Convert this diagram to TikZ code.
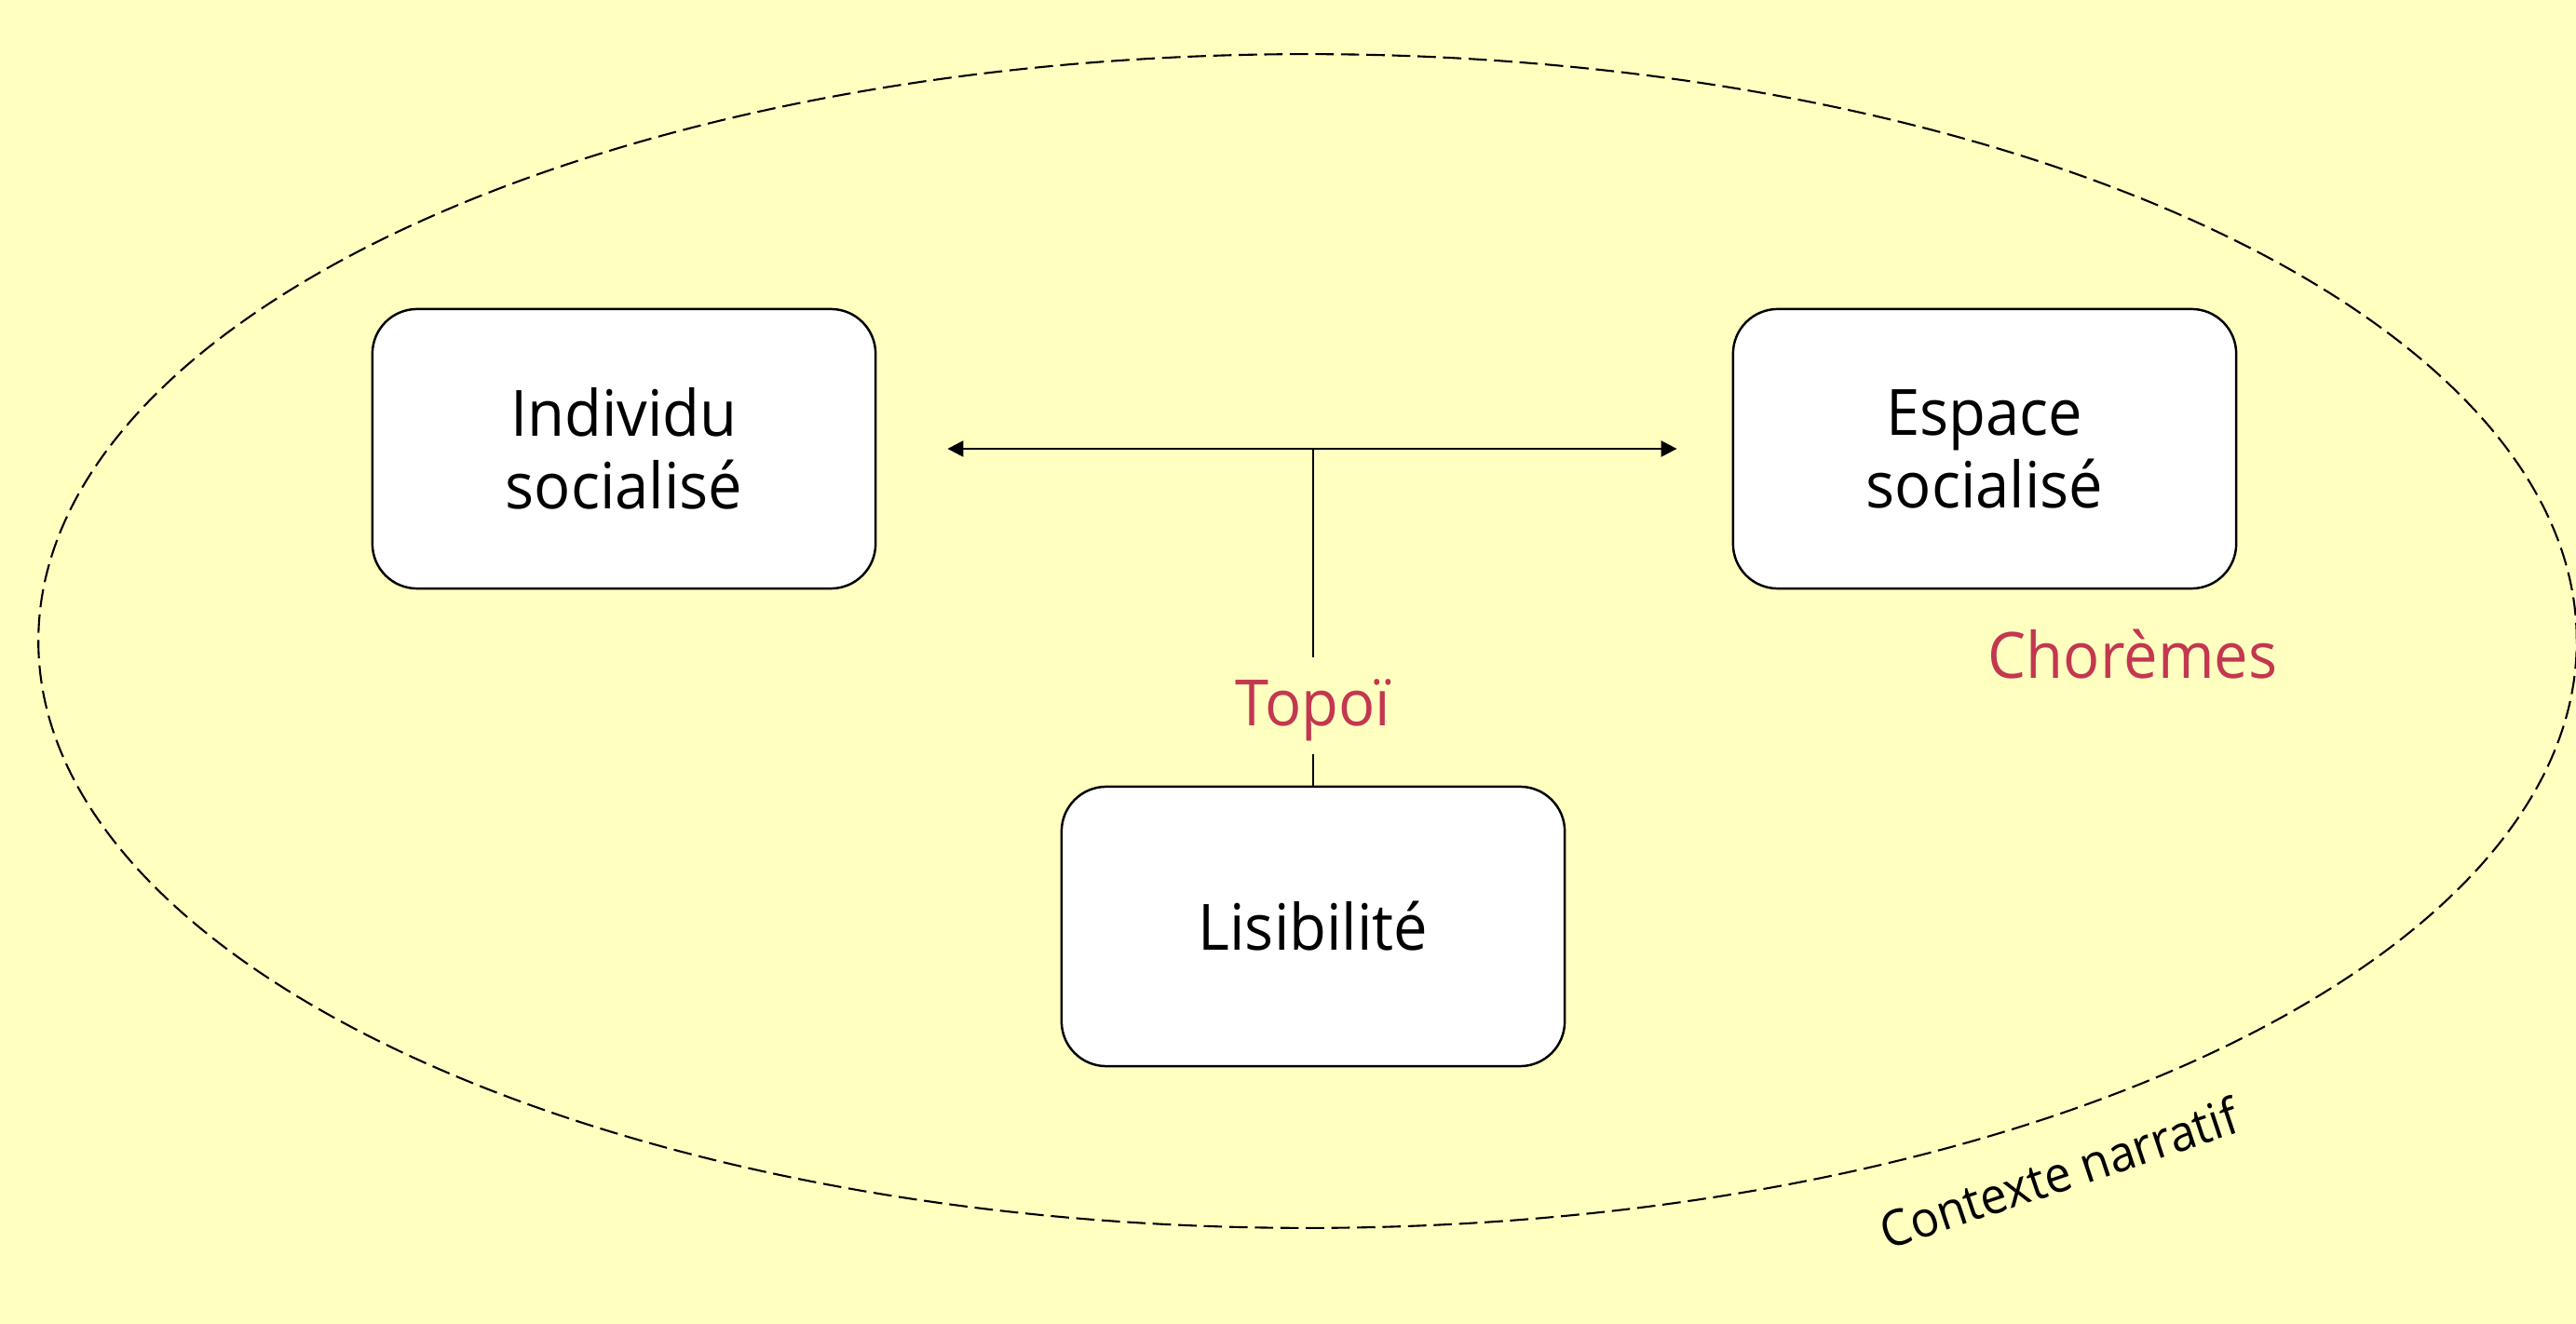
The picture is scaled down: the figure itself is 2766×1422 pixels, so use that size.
\documentclass[tikz,border=0pt]{standalone}
\usepackage{fontspec}
\setmainfont{Open Sans}
\newfontfamily\boxfont{Open Sans}[FakeStretch=0.95]
\newfontfamily\ctxfont{Open Sans}[FakeStretch=0.95]
\usetikzlibrary{arrows.meta}
\definecolor{bgyellow}{RGB}{255,255,192}
\definecolor{labred}{RGB}{195,55,80}
\tikzset{
  conceptbox/.style={draw=black, line width=0.7pt, fill=white, rounded corners=0.48cm,
    minimum width=5.4cm, minimum height=3.0cm, inner sep=0pt, align=center,
    font=\boxfont\fontsize{19.5}{22.2}\selectfont},
  redlabel/.style={text=labred, inner sep=0pt, font=\boxfont\fontsize{19.5}{22.2}\selectfont},
  linkarrow/.style={line width=0.7pt, {Triangle[length=4.8pt,width=4.8pt]}-{Triangle[length=4.8pt,width=4.8pt]}},
  thinline/.style={line width=0.35pt},
  contextellipse/.style={dash pattern=on 5.6pt off 2.2pt, line width=0.6pt}
}
\begin{document}
\begin{tikzpicture}[x=0.01cm, y=-0.01cm]
  \path[fill=bgyellow, use as bounding box] (0,0) rectangle (2766,1422);
  \draw[contextellipse] (1404,688.5) ellipse [x radius=13.62cm, y radius=6.30cm];
  \node[conceptbox] (ind) at (670,482) {Individu\\socialisé};
  \node[conceptbox] (esp) at (2131,482) {Espace\\socialisé};
  \node[conceptbox] (lis) at (1410,995) {Lisibilité};
  \draw[linkarrow, shorten <=0.76cm, shorten >=0.59cm] (ind.east) -- (esp.west);
  \coordinate (m) at (lis.north |- ind.east);
  \node[redlabel, anchor=base, text height=0.73cm, text depth=0.29cm] (topoi) at (1410,780) {Topoï};
  \draw[thinline] (m) -- (topoi.north);
  \draw[thinline] (topoi.south) -- (lis.north);
  \node[redlabel, anchor=base] (chor) at (2290,729) {Chorèmes};
  \node[anchor=base west, rotate=18.5, inner sep=0pt, font=\ctxfont\fontsize{15.2}{18}\selectfont] (ctx) at (2026,1343) {Contexte narratif};
\end{tikzpicture}
\end{document}
